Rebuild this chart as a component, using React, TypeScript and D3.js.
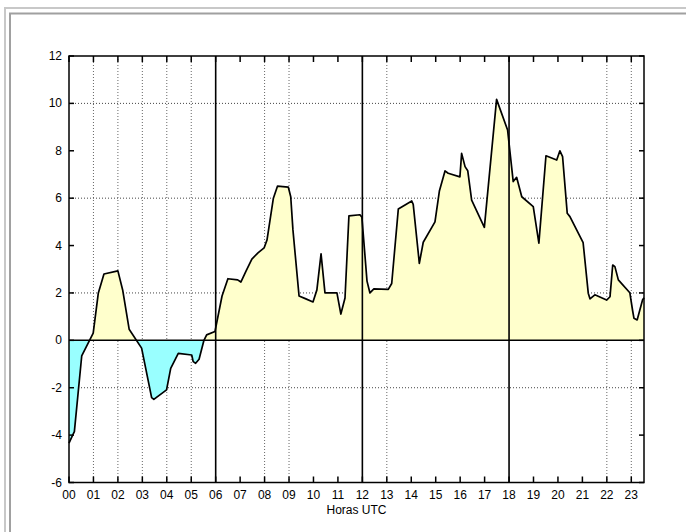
import React from 'react';
import * as d3 from 'd3';

// hours (UTC) and values
const hours = [
  0.0, 0.15, 0.22, 0.52, 0.99, 1.2, 1.43, 2.0, 2.2, 2.46, 2.97, 3.38, 3.47, 3.99,
  4.16, 4.47, 5.02, 5.08, 5.18, 5.32, 5.52, 5.63, 5.97, 6.26, 6.5, 6.9, 7.03, 7.24,
  7.48, 7.73, 7.98, 8.1, 8.36, 8.53, 8.97, 9.07, 9.16, 9.41, 9.69, 9.98, 10.14, 10.31,
  10.47, 10.96, 11.12, 11.29, 11.45, 11.9, 11.98, 12.19, 12.31, 12.47, 13.06, 13.2,
  13.47, 14.02, 14.08, 14.33, 14.49, 14.97, 15.15, 15.38, 15.51, 15.99, 16.06, 16.2,
  16.31, 16.47, 16.99, 17.49, 17.94, 18.17, 18.31, 18.52, 18.99, 19.22, 19.51, 19.95,
  20.08, 20.19, 20.38, 20.49, 21.03, 21.24, 21.31, 21.51, 21.99, 22.13, 22.24, 22.33,
  22.47, 22.94, 23.05, 23.11, 23.24, 23.46, 23.52,
];
const values = [
  -4.34, -4.0, -3.85, -0.66, 0.3, 2.0, 2.8, 2.93, 2.1, 0.47, -0.33, -2.42, -2.49, -2.09,
  -1.18, -0.55, -0.62, -0.9, -0.97, -0.8, 0.0, 0.23, 0.37, 1.87, 2.6, 2.55, 2.46, 2.92,
  3.43, 3.69, 3.9, 4.24, 6.0, 6.51, 6.47, 6.06, 4.66, 1.87, 1.75, 1.62, 2.13, 3.65,
  2.0, 2.0, 1.11, 1.79, 5.25, 5.3, 5.2, 2.5, 2.0, 2.17, 2.15, 2.4,
  5.54, 5.88, 5.74, 3.25, 4.14, 5.0, 6.3, 7.15, 7.05, 6.9, 7.89, 7.33,
  7.16, 5.92, 4.77, 10.17, 8.88, 6.7, 6.88, 6.06, 5.64, 4.1, 7.79, 7.61,
  8.0, 7.75, 5.36, 5.22, 4.12, 1.99, 1.75, 1.92, 1.7, 1.84, 3.18, 3.11,
  2.55, 2.01, 1.28, 0.93, 0.86, 1.7, 1.8,
];

const hourLabels = ['00', '01', '02', '03', '04', '05', '06', '07', '08', '09', '10', '11',
  '12', '13', '14', '15', '16', '17', '18', '19', '20', '21', '22', '23'];
const valueTicks = [12, 10, 8, 6, 4, 2, 0, -2, -4, -6];
const gridHours = [1, 2, 3, 4, 5, 8, 9, 13, 22, 23];
const gridValues = [10, 6, 2, -2];
const markerHours = [6, 12, 18];

const W = 686;
const H = 532;
const left = 69, right = 644, top = 56, bottom = 482.5;
const font = '"Liberation Sans", Arial, sans-serif';

export default function App() {
  const x = d3.scaleLinear().domain([0, 23.52]).range([left, right]);
  const y = d3.scaleLinear().domain([-6, 12]).range([bottom, top]);
  const pts = hours.map((h, i) => [h, values[i]] as [number, number]);

  const area = d3.area<[number, number]>()
    .x(d => x(d[0]))
    .y0(y(0))
    .y1(d => y(d[1]));
  const line = d3.line<[number, number]>()
    .x(d => x(d[0]))
    .y(d => y(d[1]));

  return (
    <svg width={W} height={H} style={{ position: 'absolute', left: 0, top: 0, background: '#fff' }}>
      <defs>
        <clipPath id="above"><rect x={left} y={top} width={right - left} height={y(0) - top} /></clipPath>
        <clipPath id="below"><rect x={left} y={y(0)} width={right - left} height={bottom - y(0)} /></clipPath>
      </defs>

      {/* page frame */}
      <path d={`M5,${H} V8 H${W}`} fill="none" stroke="#c8c8c8" strokeWidth={2} />
      <path d={`M10,${H} V13.5 H${W}`} fill="none" stroke="#a0a0a0" strokeWidth={2} />

      {/* dotted grid */}
      {gridHours.map(h => (
        <line key={'gx' + h} x1={x(h)} x2={x(h)} y1={top} y2={bottom}
          stroke="#666" strokeWidth={1} strokeDasharray="1,2" />
      ))}
      {gridValues.map(v => (
        <line key={'gy' + v} x1={left} x2={right} y1={y(v)} y2={y(v)}
          stroke="#444" strokeWidth={1} strokeDasharray="1,2" />
      ))}

      {/* fills */}
      <path d={area(pts) || ''} fill="#ffffcc" clipPath="url(#above)" />
      <path d={area(pts) || ''} fill="#99ffff" clipPath="url(#below)" />

      {/* 6/12/18 markers and zero line */}
      {markerHours.map(h => (
        <line key={'m' + h} x1={x(h)} x2={x(h)} y1={top} y2={bottom} stroke="#000" strokeWidth={1.6} />
      ))}
      <line x1={left} x2={right} y1={y(0)} y2={y(0)} stroke="#000" strokeWidth={1.5} />

      <path d={line(pts) || ''} fill="none" stroke="#000" strokeWidth={1.7} strokeLinejoin="round" />

      {/* frame & ticks */}
      <rect x={left} y={top} width={right - left} height={bottom - top} fill="none" stroke="#000" strokeWidth={1.5} />
      {hourLabels.map((lab, i) => (
        <g key={'xt' + i}>
          <line x1={x(i)} x2={x(i)} y1={top} y2={top + 6} stroke="#000" strokeWidth={1.5} />
          <line x1={x(i)} x2={x(i)} y1={bottom} y2={bottom - 6} stroke="#000" strokeWidth={1.5} />
          <text x={x(i)} y={499} textAnchor="middle" fontFamily={font} fontSize={12} fill="#000">{lab}</text>
        </g>
      ))}
      {valueTicks.map(v => (
        <g key={'yt' + v}>
          <line x1={left} x2={left + 5} y1={y(v)} y2={y(v)} stroke="#000" strokeWidth={1.5} />
          <line x1={right} x2={right - 5} y1={y(v)} y2={y(v)} stroke="#000" strokeWidth={1.5} />
          <text x={62} y={y(v) + 4} textAnchor="end" fontFamily={font} fontSize={12} fill="#000">{v}</text>
        </g>
      ))}
      <text x={(left + right) / 2} y={514} textAnchor="middle" fontFamily={font} fontSize={12} fill="#000">Horas UTC</text>
    </svg>
  );
}
